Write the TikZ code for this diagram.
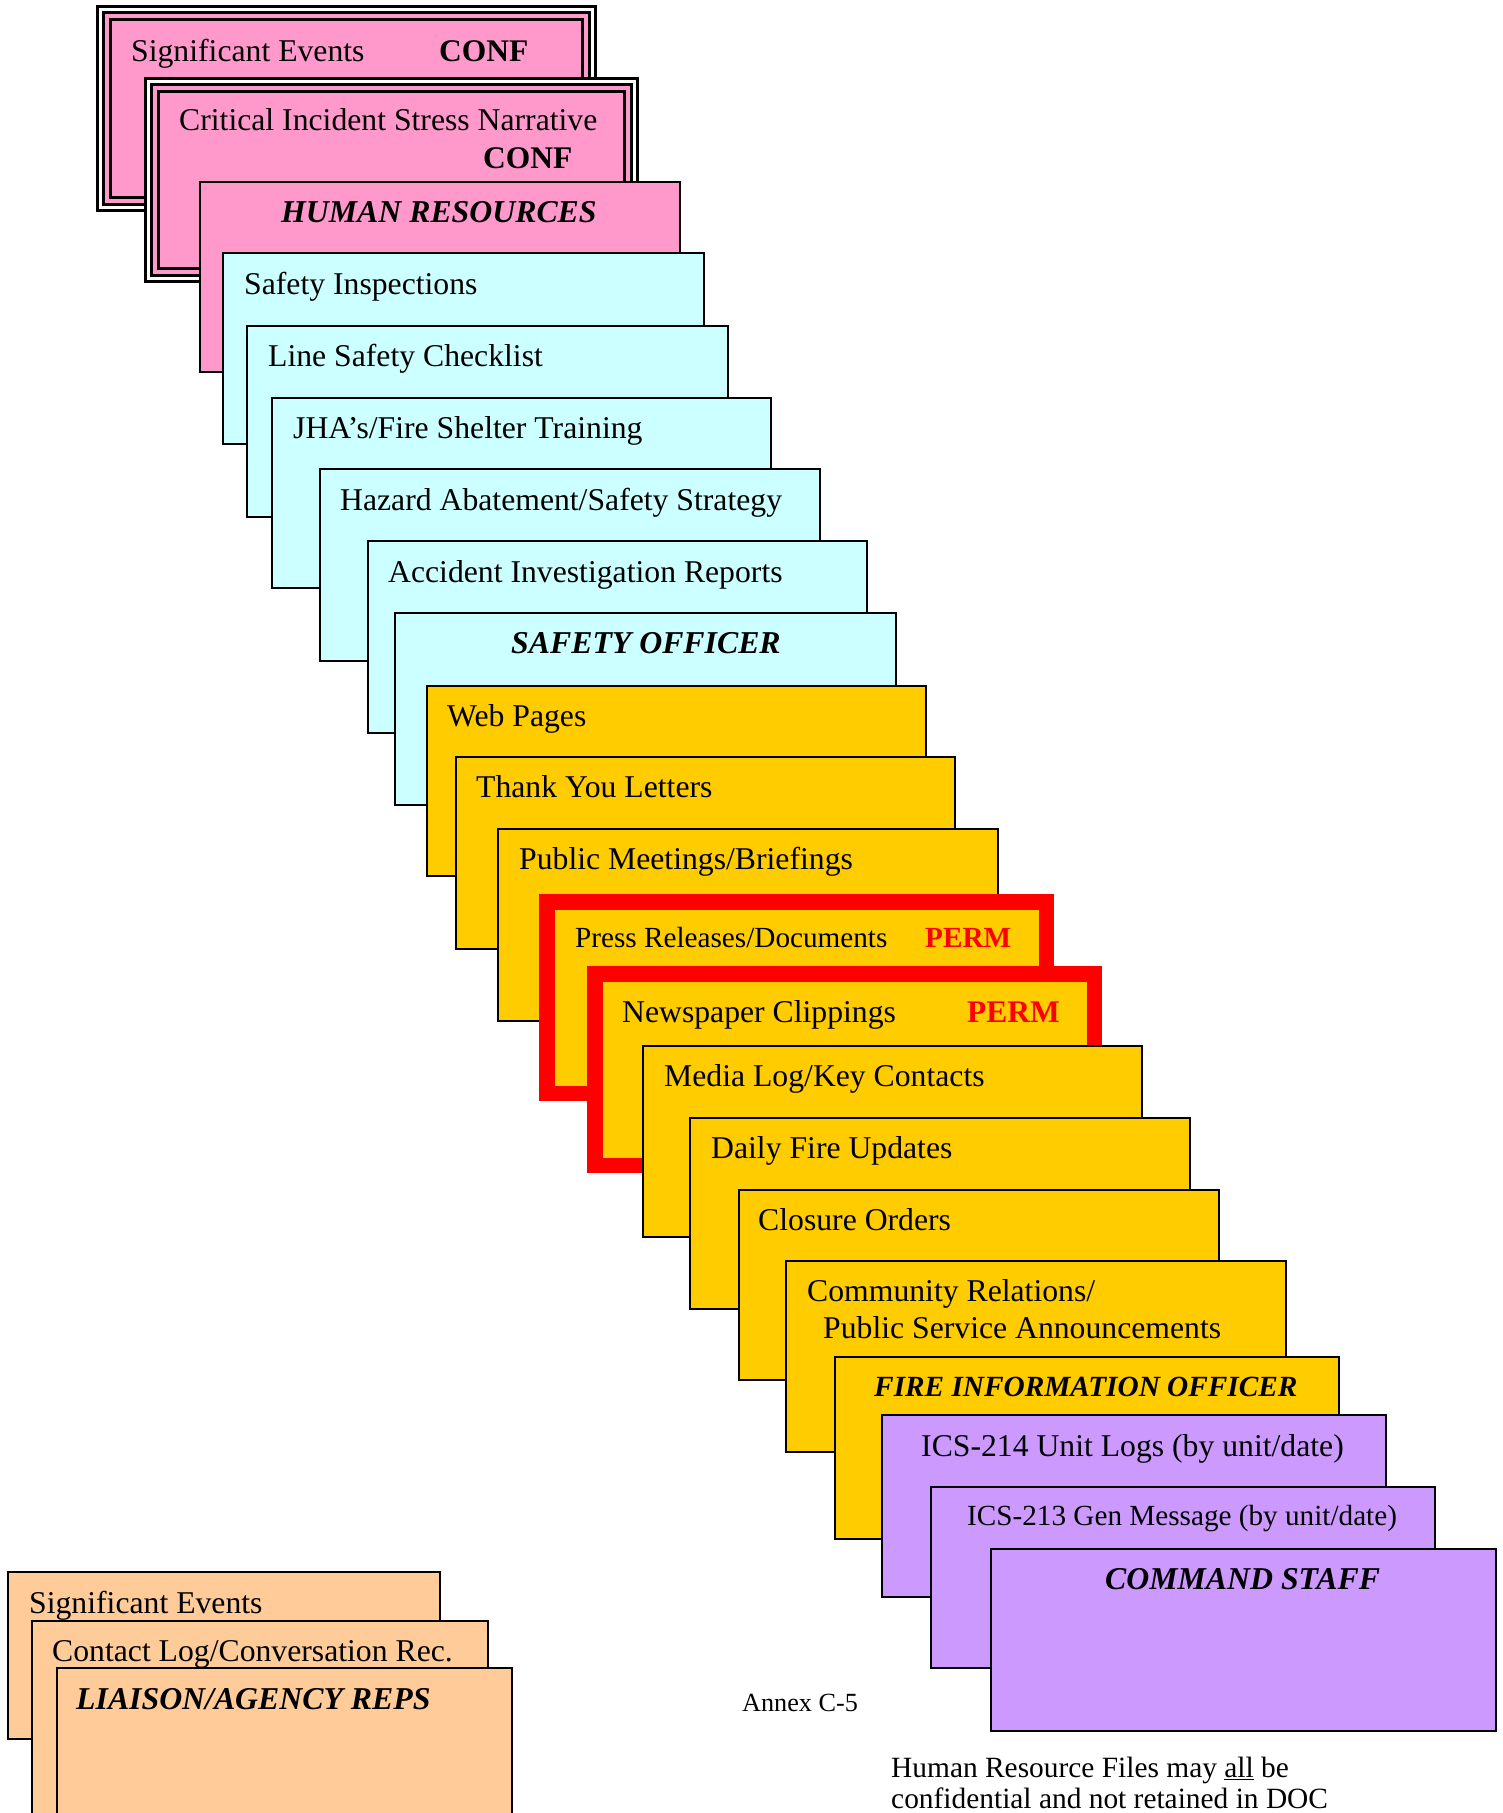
\documentclass[tikz,border=0pt]{standalone}
\usepackage{fontspec}
\setmainfont{Liberation Serif}
\usepackage{tikz}

\definecolor{cardpink}{HTML}{FF99CC}
\definecolor{cardcyan}{HTML}{CCFFFF}
\definecolor{cardgold}{HTML}{FFCC00}
\definecolor{cardlilac}{HTML}{CC99FF}
\definecolor{cardpeach}{HTML}{FFCC99}
\definecolor{permred}{HTML}{FF0000}

\tikzset{
    card/.style={draw=black, line width=2.2pt, anchor=north west, outer sep=0pt, inner sep=0pt},
    conf card/.style={card, line width=3.3pt, double=white, double distance=2.7pt, fill=cardpink},
    perm card/.style={card, draw=permred, line width=15.5pt, fill=cardgold},
    cardtext/.style={anchor=base west, inner sep=0pt, font=\fontsize{31.7}{38}\selectfont},
    smalltext/.style={cardtext, font=\fontsize{29.2}{35}\selectfont},
    heading/.style={cardtext, font=\fontsize{31.8}{38}\selectfont\bfseries\itshape},
    tag/.style={cardtext, font=\fontsize{31.5}{38}\selectfont\bfseries},
}

\begin{document}
\begin{tikzpicture}[x=1pt, y=-1pt]

    % Fix the page size
    \useasboundingbox (0,0) rectangle (1503,1813);

    % Human resources files (pink)
    \node[conf card, minimum width=491.7, minimum height=197.7] (sigev) at (100.65,9.65) {};
    \draw[line width=3.3pt] ([xshift=9.65pt,yshift=-9.65pt]sigev.north west) rectangle ([xshift=-9.65pt,yshift=9.65pt]sigev.south east);
    \node[cardtext] (sigevT) at (131,61) {Significant Events};
    \node[tag] (sigevC) at (439,61) {CONF};

    \node[conf card, minimum width=485.7, minimum height=196.7] (cisn) at (148.65,81.65) {};
    \draw[line width=3.3pt] ([xshift=9.65pt,yshift=-9.65pt]cisn.north west) rectangle ([xshift=-9.65pt,yshift=9.65pt]cisn.south east);
    \node[cardtext] (cisnT) at (179,130) {Critical Incident Stress Narrative};
    \node[tag] (cisnC) at (483,168) {CONF};

    \node[card, fill=cardpink, minimum width=480, minimum height=190] (hr) at (200,182) {};
    \node[heading] (hrT) at (281,222) {HUMAN RESOURCES};

    % Safety officer files (cyan)
    \node[card, fill=cardcyan, minimum width=481, minimum height=191] (sinsp) at (223,253) {};
    \node[cardtext] (sinspT) at (244,294) {Safety Inspections};

    \node[card, fill=cardcyan, minimum width=481, minimum height=191] (lsafe) at (247,326) {};
    \node[cardtext] (lsafeT) at (268,366) {Line Safety Checklist};

    \node[card, fill=cardcyan, minimum width=499, minimum height=190] (jha) at (272,398) {};
    \node[cardtext] (jhaT) at (293,438) {JHA’s/Fire Shelter Training};

    \node[card, fill=cardcyan, minimum width=500, minimum height=192] (hazard) at (320,469) {};
    \node[cardtext] (hazardT) at (340,510) {Hazard Abatement/Safety Strategy};

    \node[card, fill=cardcyan, minimum width=499, minimum height=192] (accid) at (368,541) {};
    \node[cardtext] (accidT) at (388,582) {Accident Investigation Reports};

    \node[card, fill=cardcyan, minimum width=501, minimum height=192] (safoff) at (395,613) {};
    \node[heading] (safoffT) at (511,653) {SAFETY OFFICER};

    % Fire information officer files (gold)
    \node[card, fill=cardgold, minimum width=499, minimum height=190] (web) at (427,686) {};
    \node[cardtext] (webT) at (447,726) {Web Pages};

    \node[card, fill=cardgold, minimum width=499, minimum height=192] (thanks) at (456,757) {};
    \node[cardtext] (thanksT) at (476,797) {Thank You Letters};

    \node[card, fill=cardgold, minimum width=500, minimum height=192] (pubmeet) at (498,829) {};
    \node[cardtext] (pubmeetT) at (519,869) {Public Meetings/Briefings};

    \node[perm card, minimum width=499.5, minimum height=191.5] (press) at (546.75,901.75) {};
    \node[smalltext] (pressT) at (575,947) {Press Releases/Documents};
    \node[tag, text=permred, font=\fontsize{29.2}{35}\selectfont\bfseries] (pressP) at (925,947) {PERM};

    \node[perm card, minimum width=499.5, minimum height=191.5] (news) at (594.75,973.75) {};
    \node[cardtext] (newsT) at (622,1022) {Newspaper Clippings};
    \node[tag, text=permred] (newsP) at (967,1022) {PERM};

    \node[card, fill=cardgold, minimum width=499, minimum height=191] (medialog) at (643,1046) {};
    \node[cardtext] (medialogT) at (664,1086) {Media Log/Key Contacts};

    \node[card, fill=cardgold, minimum width=500, minimum height=191] (daily) at (690,1118) {};
    \node[cardtext] (dailyT) at (711,1158) {Daily Fire Updates};

    \node[card, fill=cardgold, minimum width=480, minimum height=190] (closure) at (739,1190) {};
    \node[cardtext] (closureT) at (758,1230) {Closure Orders};

    \node[card, fill=cardgold, minimum width=500, minimum height=191] (commrel) at (786,1261) {};
    \node[cardtext] (commrelT) at (807,1301) {Community Relations/};
    \node[cardtext] (commrelU) at (823,1338) {Public Service Announcements};

    \node[card, fill=cardgold, minimum width=504, minimum height=182] (fio) at (835,1357) {};
    \node[heading, font=\fontsize{29.3}{35}\selectfont\bfseries\itshape] (fioT) at (874,1396) {FIRE INFORMATION OFFICER};

    % Command staff files (lilac)
    \node[card, fill=cardlilac, minimum width=504, minimum height=182] (ics214) at (882,1415) {};
    \node[cardtext] (ics214T) at (921,1456) {ICS-214 Unit Logs (by unit/date)};

    \node[card, fill=cardlilac, minimum width=504, minimum height=181] (ics213) at (931,1487) {};
    \node[smalltext] (ics213T) at (967,1525) {ICS-213 Gen Message (by unit/date)};

    \node[card, fill=cardlilac, minimum width=505, minimum height=182] (cmdstaff) at (991,1549) {};
    \node[heading] (cmdstaffT) at (1105,1589) {COMMAND STAFF};

    % Liaison files (peach)
    \node[card, fill=cardpeach, minimum width=432, minimum height=167] (lsigev) at (8,1572) {};
    \node[cardtext] (lsigevT) at (29,1613) {Significant Events};

    \node[card, fill=cardpeach, minimum width=456, minimum height=200] (contact) at (32,1621) {};
    \node[cardtext] (contactT) at (52,1661) {Contact Log/Conversation Rec.};

    \node[card, fill=cardpeach, minimum width=455, minimum height=160] (liaison) at (57,1668) {};
    \node[heading] (liaisonT) at (76,1709) {LIAISON/AGENCY REPS};

    % Page label and note
    \node[cardtext, font=\fontsize{26.2}{31}\selectfont] (annex) at (742,1711) {Annex C-5};
    \node[cardtext, font=\fontsize{29.4}{35}\selectfont] (noteA) at (891,1777) {Human Resource Files may \underline{all} be};
    \node[cardtext, font=\fontsize{29.4}{35}\selectfont] (noteB) at (891,1808) {confidential and not retained in DOC};

\end{tikzpicture}
\end{document}
